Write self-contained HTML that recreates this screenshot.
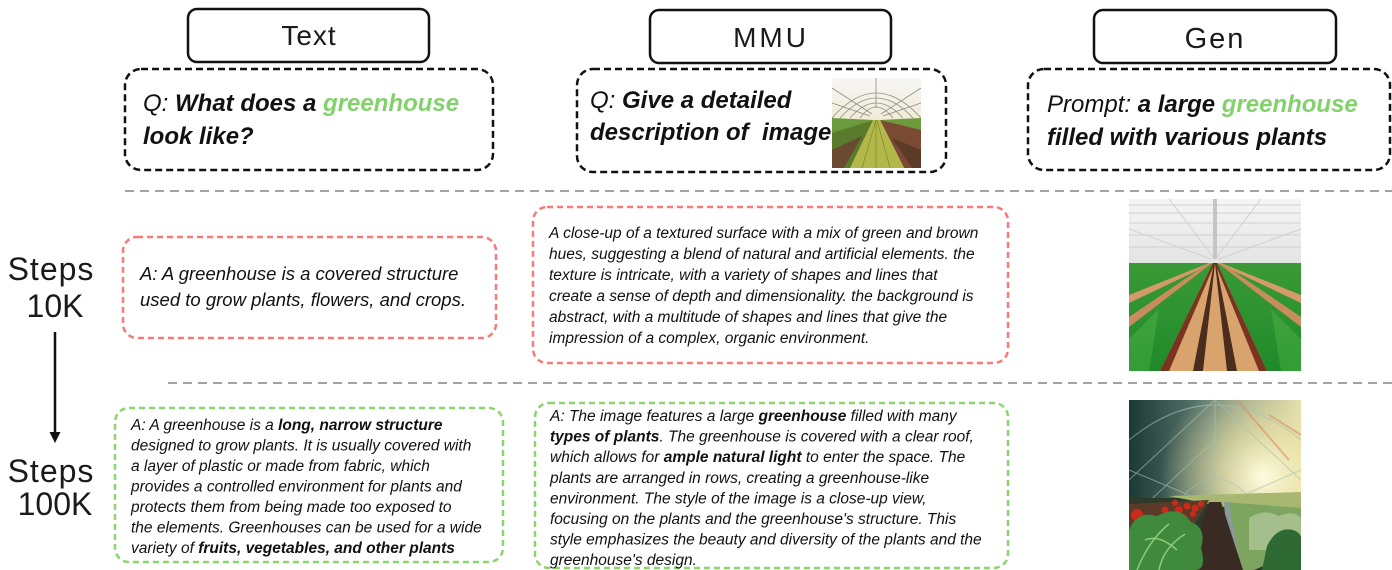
<!DOCTYPE html>
<html>
<head>
<meta charset="utf-8">
<style>
html,body{margin:0;padding:0;background:#fff;}
body{width:1392px;height:570px;overflow:hidden;position:relative;}
svg{position:absolute;left:0;top:0;}
text{font-family:"Liberation Sans",sans-serif;fill:#111;}
.it{font-style:italic;}
.b{font-weight:bold;}
.g{fill:#82d26c;}
.lt{fill:#1a1a1a;stroke:none;}
</style>
</head>
<body>
<svg width="1392" height="570" viewBox="0 0 1392 570" xmlns="http://www.w3.org/2000/svg">
  <defs>
    <linearGradient id="ceil1" x1="0" y1="0" x2="0" y2="1">
      <stop offset="0" stop-color="#f5f5f5"/>
      <stop offset="1" stop-color="#e2e4e2"/>
    </linearGradient>
    <linearGradient id="fld1" x1="0" y1="0" x2="0" y2="1">
      <stop offset="0" stop-color="#3a9a36"/>
      <stop offset="1" stop-color="#1f8a2a"/>
    </linearGradient>
    <linearGradient id="bg2" x1="0" y1="0" x2="1" y2="0">
      <stop offset="0" stop-color="#1d3936"/>
      <stop offset="0.45" stop-color="#5d7a70"/>
      <stop offset="1" stop-color="#e0dcae"/>
    </linearGradient>
    <radialGradient id="glow2" cx="0.78" cy="0.45" r="0.6">
      <stop offset="0" stop-color="#fffde0" stop-opacity="1"/>
      <stop offset="0.45" stop-color="#f3e8a8" stop-opacity="0.65"/>
      <stop offset="1" stop-color="#f3e8a8" stop-opacity="0"/>
    </radialGradient>
    <linearGradient id="ceilS" x1="0" y1="0" x2="0" y2="1">
      <stop offset="0" stop-color="#f6f6f4"/>
      <stop offset="1" stop-color="#ece0b4"/>
    </linearGradient>
  </defs>

  <!-- Header boxes -->
  <rect x="188" y="9" width="241" height="53" rx="9" fill="none" stroke="#111" stroke-width="2.5"/>
  <rect x="650" y="10" width="241" height="53" rx="9" fill="none" stroke="#111" stroke-width="2.5"/>
  <rect x="1094" y="10" width="242" height="53" rx="9" fill="none" stroke="#111" stroke-width="2.5"/>
  <text x="309" y="45" font-size="28" text-anchor="middle" letter-spacing="1" class="lt">Text</text>
  <text x="771" y="47" font-size="28" text-anchor="middle" letter-spacing="3" class="lt">MMU</text>
  <text x="1215" y="48" font-size="29" text-anchor="middle" letter-spacing="2" class="lt">Gen</text>

  <!-- Question boxes -->
  <rect x="125" y="69" width="368" height="101" rx="16" fill="none" stroke="#111" stroke-width="2.5" stroke-dasharray="7 4"/>
  <rect x="577" y="69" width="369" height="103" rx="16" fill="none" stroke="#111" stroke-width="2.5" stroke-dasharray="7 4"/>
  <rect x="1028" y="69" width="362" height="101" rx="16" fill="none" stroke="#111" stroke-width="2.5" stroke-dasharray="7 4"/>

  <text x="143" y="111" font-size="24" class="it">Q: <tspan class="b">What does a </tspan><tspan class="b g">greenhouse</tspan></text>
  <text x="143" y="144" font-size="24" class="it b">look like?</text>

  <text x="590" y="108" font-size="24" class="it">Q: <tspan class="b">Give a detailed</tspan></text>
  <text x="590" y="140" font-size="24" class="it b" xml:space="preserve">description of  image</text>

  <text x="1047" y="112" font-size="24" class="it">Prompt: <tspan class="b">a large </tspan><tspan class="b g">greenhouse</tspan></text>
  <text x="1047" y="145" font-size="24" class="it b">filled with various plants</text>

  <!-- MMU small image -->
  <g transform="translate(832,78)">
    <rect x="0" y="0" width="89" height="90" fill="url(#ceilS)"/>
    <g stroke="#8c8c8c" stroke-width="0.8" fill="none">
      <path d="M0,40 Q44,-10 89,40"/>
      <path d="M8,40 Q44,0 81,40"/>
      <path d="M18,40 Q44,10 71,40"/>
      <path d="M28,40 Q44,18 61,40"/>
      <path d="M0,10 L40,36"/>
      <path d="M89,10 L49,36"/>
      <path d="M0,25 L38,38"/>
      <path d="M89,25 L51,38"/>
      <path d="M44,0 L44,30"/>
    </g>
    <polygon points="0,40 42,42 0,62" fill="#6a9a3c"/>
    <polygon points="89,40 48,42 89,60" fill="#6e9a3e"/>
    <polygon points="0,55 42,42 20,90 0,90" fill="#5a7a2c"/>
    <polygon points="0,72 30,58 12,90 0,90" fill="#6a4a30"/>
    <polygon points="89,52 48,42 72,90 89,90" fill="#7a4a32"/>
    <polygon points="89,72 60,60 80,90 89,90" fill="#5e3a28"/>
    <polygon points="41,42 48,42 72,90 18,90" fill="#b4b84a"/>
    <g stroke="#7a8a2a" stroke-width="0.7">
      <line x1="44" y1="42" x2="30" y2="90"/>
      <line x1="44" y1="42" x2="44" y2="90"/>
      <line x1="45" y1="42" x2="58" y2="90"/>
    </g>
  </g>

  <!-- Gray separators -->
  <line x1="125" y1="191" x2="1392" y2="191" stroke="#a3a3a3" stroke-width="2" stroke-dasharray="9 6"/>
  <line x1="168" y1="383" x2="1392" y2="383" stroke="#a3a3a3" stroke-width="2" stroke-dasharray="9 6"/>

  <!-- Steps labels -->
  <text x="51" y="280" font-size="32" text-anchor="middle" letter-spacing="1" class="lt">Steps</text>
  <text x="55" y="317" font-size="32" text-anchor="middle" class="lt">10K</text>
  <text x="51" y="482" font-size="32" text-anchor="middle" letter-spacing="1" class="lt">Steps</text>
  <text x="55" y="515" font-size="32" text-anchor="middle" class="lt">100K</text>
  <line x1="55" y1="332" x2="55" y2="434" stroke="#111" stroke-width="2.5"/>
  <polygon points="49.5,432 60.5,432 55,443" fill="#111"/>

  <!-- 10K row boxes -->
  <rect x="123" y="237" width="373" height="101" rx="14" fill="none" stroke="#f77b78" stroke-width="2.5" stroke-dasharray="6 4"/>
  <text x="140" y="280" font-size="18.5" class="it">A: A greenhouse is a covered structure</text>
  <text x="140" y="306" font-size="18.5" class="it">used to grow plants, flowers, and crops.</text>

  <rect x="533" y="207" width="475" height="156" rx="14" fill="none" stroke="#f77b78" stroke-width="2.5" stroke-dasharray="6 4"/>
  <g font-size="15.5">
    <text x="549" y="238" class="it">A close-up of a textured surface with a mix of green and brown</text>
    <text x="549" y="259" class="it">hues, suggesting a blend of natural and artificial elements. the</text>
    <text x="549" y="280" class="it">texture is intricate, with a variety of shapes and lines that</text>
    <text x="549" y="301" class="it">create a sense of depth and dimensionality. the background is</text>
    <text x="549" y="322" class="it">abstract, with a multitude of shapes and lines that give the</text>
    <text x="549" y="343" class="it">impression of a complex, organic environment.</text>
  </g>

  <!-- Gen image 1 -->
  <g transform="translate(1129,199)">
    <rect x="0" y="0" width="172" height="66" fill="url(#ceil1)"/>
    <g stroke="#cfd0cf" stroke-width="1" fill="none">
      <line x1="0" y1="6" x2="172" y2="6"/>
      <line x1="0" y1="14" x2="172" y2="14"/>
      <line x1="0" y1="24" x2="172" y2="24"/>
      <line x1="0" y1="36" x2="172" y2="36"/>
      <line x1="0" y1="48" x2="172" y2="48"/>
      <line x1="40" y1="0" x2="84" y2="58"/>
      <line x1="132" y1="0" x2="88" y2="58"/>
      <line x1="0" y1="30" x2="82" y2="60"/>
      <line x1="172" y1="30" x2="90" y2="60"/>
    </g>
    <rect x="84" y="0" width="4" height="60" fill="#c8c4be"/>
    <rect x="0" y="64" width="172" height="108" fill="url(#fld1)"/>
    <polygon points="84,64 80,64 0,96 0,104" fill="#d49a6a"/>
    <polygon points="82,65 78,65 0,118 0,128" fill="#c98c5c"/>
    <polygon points="88,64 92,64 172,96 172,104" fill="#d49a6a"/>
    <polygon points="90,65 94,65 172,118 172,128" fill="#c98c5c"/>
    <polygon points="84,64 88,64 138,172 31,172" fill="#d9a36e"/>
    <polygon points="84,64 86,64 40,172 31,172" fill="#7a3320"/>
    <polygon points="86,64 88,64 138,172 130,172" fill="#7a3320"/>
    <polygon points="85,64 86,64 74,172 64,172" fill="#4a2d1c"/>
    <polygon points="86,64 87,64 108,172 98,172" fill="#4a2d1c"/>
    <g fill="#5cc04e" opacity="0.35">
      <polygon points="0,140 30,110 20,172 0,172"/>
      <polygon points="172,140 142,110 152,172 172,172"/>
    </g>
  </g>

  <!-- 100K row boxes -->
  <rect x="115" y="408" width="388" height="154" rx="14" fill="none" stroke="#8cd46c" stroke-width="2.5" stroke-dasharray="6 4"/>
  <g font-size="15.5">
    <text x="131" y="430" class="it">A: A greenhouse is a <tspan class="b">long, narrow structure</tspan></text>
    <text x="131" y="450.5" class="it">designed to grow plants. It is usually covered with</text>
    <text x="131" y="471" class="it">a layer of plastic or made from fabric, which</text>
    <text x="131" y="491.5" class="it">provides a controlled environment for plants and</text>
    <text x="131" y="512" class="it">protects them from being made too exposed to</text>
    <text x="131" y="532.5" class="it">the elements. Greenhouses can be used for a wide</text>
    <text x="131" y="553" class="it">variety of <tspan class="b">fruits, vegetables, and other plants</tspan></text>
  </g>

  <rect x="535" y="403" width="473" height="165" rx="14" fill="none" stroke="#8cd46c" stroke-width="2.5" stroke-dasharray="6 4"/>
  <g font-size="15.5">
    <text x="550" y="421" class="it">A: The image features a large <tspan class="b">greenhouse</tspan> filled with many</text>
    <text x="550" y="441.6" class="it"><tspan class="b">types of plants</tspan>. The greenhouse is covered with a clear roof,</text>
    <text x="550" y="462.2" class="it">which allows for <tspan class="b">ample natural light</tspan> to enter the space. The</text>
    <text x="550" y="482.8" class="it">plants are arranged in rows, creating a greenhouse-like</text>
    <text x="550" y="503.4" class="it">environment. The style of the image is a close-up view,</text>
    <text x="550" y="524" class="it">focusing on the plants and the greenhouse's structure. This</text>
    <text x="550" y="544.6" class="it">style emphasizes the beauty and diversity of the plants and the</text>
    <text x="550" y="565.2" class="it">greenhouse's design.</text>
  </g>

  <!-- Gen image 2 -->
  <g transform="translate(1129,400)">
    <rect x="0" y="0" width="172" height="170" fill="url(#bg2)"/>
    <rect x="0" y="0" width="172" height="170" fill="url(#glow2)"/>
    <g stroke="#a8c0b6" stroke-width="1.1" fill="none" opacity="0.6">
      <path d="M0,40 Q86,-30 172,40"/>
      <path d="M0,80 L86,0"/>
      <path d="M172,80 L86,0"/>
      <path d="M0,120 L86,40"/>
      <path d="M86,0 L86,95"/>
      <path d="M55,95 Q86,62 118,95"/>
      <line x1="0" y1="70" x2="60" y2="95"/>
      <line x1="172" y1="70" x2="115" y2="95"/>
      <line x1="0" y1="100" x2="60" y2="100"/>
    </g>
    <path d="M108,0 L160,60" stroke="#d8906a" stroke-width="2" opacity="0.6"/>
    <path d="M140,15 L172,35" stroke="#d8906a" stroke-width="2" opacity="0.6"/>
    <!-- floor -->
    <rect x="0" y="98" width="172" height="72" fill="#2c3a2a"/>
    <polygon points="40,96 172,92 172,130 110,110" fill="#a8b870"/>
    <polygon points="95,102 172,108 172,150 125,170 100,170" fill="#7ea560"/>
    <polygon points="95,102 100,102 112,170 102,170" fill="#8a9a98"/>
    <polygon points="80,102 92,102 114,170 58,170" fill="#3a2a24"/>
    <polygon points="0,104 80,100 62,130 0,140" fill="#5a3a28"/>
    <g fill="#cc2a18">
      <circle cx="50" cy="110" r="4"/><circle cx="58" cy="106" r="3.5"/><circle cx="66" cy="108" r="3.5"/>
      <circle cx="42" cy="116" r="4"/><circle cx="54" cy="118" r="4"/><circle cx="64" cy="114" r="3"/>
      <circle cx="8" cy="115" r="6"/><circle cx="14" cy="124" r="5"/><circle cx="46" cy="103" r="3"/>
      <circle cx="36" cy="110" r="3.5"/><circle cx="72" cy="104" r="3"/>
    </g>
    <!-- lettuce -->
    <path d="M0,130 Q8,110 28,116 Q50,104 62,122 Q78,128 72,148 Q78,170 66,170 L0,170 Z" fill="#3f8a3c"/>
    <path d="M8,170 Q20,140 40,124 M30,170 Q34,148 56,134 M16,140 Q30,134 48,150" stroke="#8ecb7a" stroke-width="1.5" fill="none"/>
    <!-- right greens -->
    <path d="M120,118 Q135,108 150,116 Q165,110 172,118 L172,150 L120,150 Z" fill="#a4be8c"/>
    <path d="M138,146 Q148,126 164,130 Q172,133 172,138 L172,170 L133,170 Z" fill="#2f6a35"/>
  </g>
</svg>
</body>
</html>
